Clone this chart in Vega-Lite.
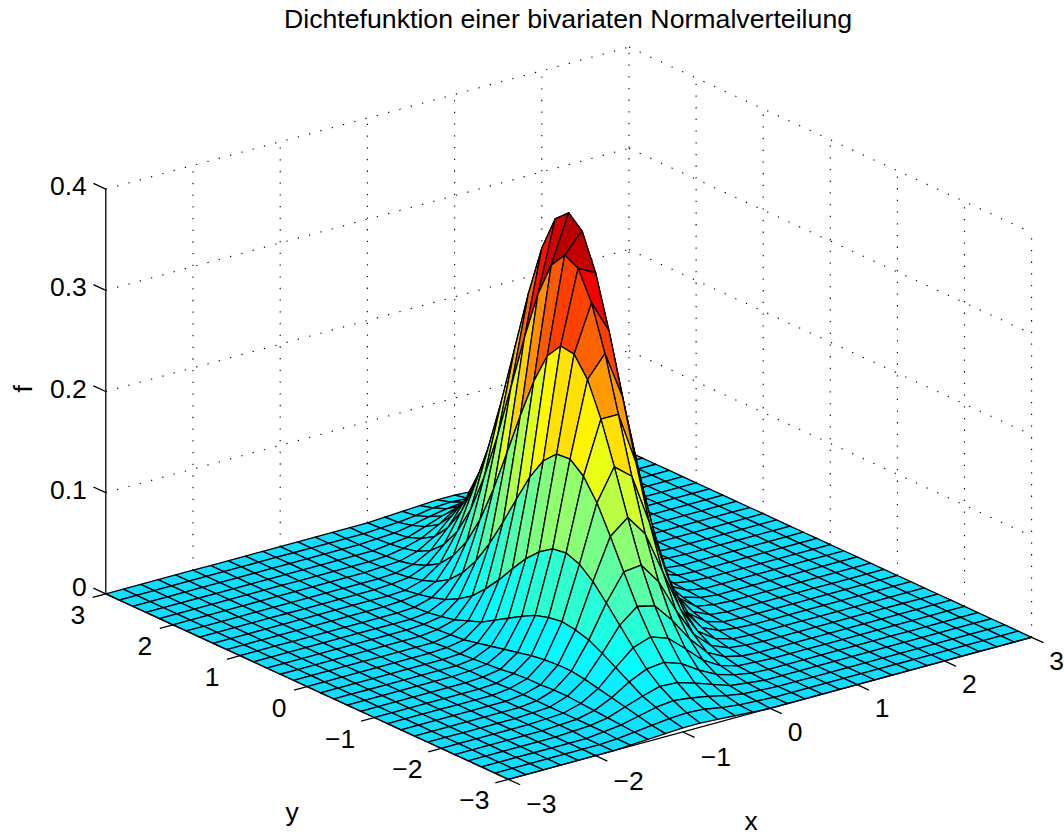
{"$schema":"https://vega.github.io/schema/vega-lite/v6.json","width":1064,"height":834,"padding":0,"autosize":"none","background":"white","config":{"view":{"stroke":null},"text":{"font":"Liberation Sans"}},
"title":{"text":"Dichtefunktion einer bivariaten Normalverteilung","anchor":"middle","frame":"group","font":"Liberation Sans","fontSize":26.7,"fontWeight":"normal","color":"black","baseline":"alphabetic","offset":0,"dy":55,"dx":36},
"datasets":{"grid":[{"x0":-3,"y0":3,"z0":0.1,"x1":3,"y1":3,"z1":0.1},{"x0":-3,"y0":3,"z0":0.2,"x1":3,"y1":3,"z1":0.2},{"x0":-3,"y0":3,"z0":0.3,"x1":3,"y1":3,"z1":0.3},{"x0":-3,"y0":3,"z0":0.4,"x1":3,"y1":3,"z1":0.4},{"x0":3,"y0":3,"z0":0.1,"x1":3,"y1":-3,"z1":0.1},{"x0":3,"y0":3,"z0":0.2,"x1":3,"y1":-3,"z1":0.2},{"x0":3,"y0":3,"z0":0.3,"x1":3,"y1":-3,"z1":0.3},{"x0":3,"y0":3,"z0":0.4,"x1":3,"y1":-3,"z1":0.4},{"x0":-2,"y0":3,"z0":0,"x1":-2,"y1":3,"z1":0.4},{"x0":-1,"y0":3,"z0":0,"x1":-1,"y1":3,"z1":0.4},{"x0":0,"y0":3,"z0":0,"x1":0,"y1":3,"z1":0.4},{"x0":1,"y0":3,"z0":0,"x1":1,"y1":3,"z1":0.4},{"x0":2,"y0":3,"z0":0,"x1":2,"y1":3,"z1":0.4},{"x0":3,"y0":3,"z0":0,"x1":3,"y1":3,"z1":0.4},{"x0":3,"y0":2,"z0":0,"x1":3,"y1":2,"z1":0.4},{"x0":3,"y0":1,"z0":0,"x1":3,"y1":1,"z1":0.4},{"x0":3,"y0":0,"z0":0,"x1":3,"y1":0,"z1":0.4},{"x0":3,"y0":-1,"z0":0,"x1":3,"y1":-1,"z1":0.4},{"x0":3,"y0":-2,"z0":0,"x1":3,"y1":-2,"z1":0.4},{"x0":3,"y0":-3,"z0":0,"x1":3,"y1":-3,"z1":0.4}],
"axes":[{"x0":-3,"y0":3,"z0":0,"x1":-3,"y1":3,"z1":0.4},{"x0":-3,"y0":-3,"z0":0,"x1":3,"y1":-3,"z1":0},{"x0":-3,"y0":-3,"z0":0,"x1":-3,"y1":3,"z1":0},{"x0":-3,"y0":3,"z0":0,"x1":-3,"y1":3.185,"z1":0},{"x0":-3,"y0":3,"z0":0.1,"x1":-3,"y1":3.185,"z1":0.1},{"x0":-3,"y0":3,"z0":0.2,"x1":-3,"y1":3.185,"z1":0.2},{"x0":-3,"y0":3,"z0":0.3,"x1":-3,"y1":3.185,"z1":0.3},{"x0":-3,"y0":3,"z0":0.4,"x1":-3,"y1":3.185,"z1":0.4},{"x0":-3,"y0":-3,"z0":0,"x1":-3,"y1":-3.175,"z1":0},{"x0":-2,"y0":-3,"z0":0,"x1":-2,"y1":-3.175,"z1":0},{"x0":-1,"y0":-3,"z0":0,"x1":-1,"y1":-3.175,"z1":0},{"x0":0,"y0":-3,"z0":0,"x1":0,"y1":-3.175,"z1":0},{"x0":1,"y0":-3,"z0":0,"x1":1,"y1":-3.175,"z1":0},{"x0":2,"y0":-3,"z0":0,"x1":2,"y1":-3.175,"z1":0},{"x0":3,"y0":-3,"z0":0,"x1":3,"y1":-3.175,"z1":0},{"x0":-3,"y0":-3,"z0":0,"x1":-3.15,"y1":-3,"z1":0},{"x0":-3,"y0":-2,"z0":0,"x1":-3.15,"y1":-2,"z1":0},{"x0":-3,"y0":-1,"z0":0,"x1":-3.15,"y1":-1,"z1":0},{"x0":-3,"y0":0,"z0":0,"x1":-3.15,"y1":0,"z1":0},{"x0":-3,"y0":1,"z0":0,"x1":-3.15,"y1":1,"z1":0},{"x0":-3,"y0":2,"z0":0,"x1":-3.15,"y1":2,"z1":0},{"x0":-3,"y0":3,"z0":0,"x1":-3.15,"y1":3,"z1":0}],
"nodes":[
{"id":960,"f":0},{"id":959,"f":0},{"id":958,"f":0},{"id":957,"f":0},{"id":956,"f":0},{"id":955,"f":0},{"id":954,"f":0},{"id":953,"f":0},{"id":952,"f":0},{"id":951,"f":0},{"id":950,"f":0},{"id":949,"f":0},{"id":948,"f":0},{"id":947,"f":0},{"id":946,"f":0},{"id":945,"f":0},{"id":944,"f":0},{"id":943,"f":0},{"id":942,"f":0},{"id":941,"f":0},{"id":940,"f":0},{"id":939,"f":0},{"id":938,"f":0},{"id":937,"f":0},{"id":936,"f":0},{"id":935,"f":0},{"id":934,"f":0},{"id":933,"f":0},{"id":932,"f":0},{"id":931,"f":0},{"id":930,"f":0},
{"id":929,"f":0},{"id":928,"f":0},{"id":927,"f":0},{"id":926,"f":0},{"id":925,"f":0},{"id":924,"f":0},{"id":923,"f":0},{"id":922,"f":0},{"id":921,"f":0},{"id":920,"f":0},{"id":919,"f":0},{"id":918,"f":0},{"id":917,"f":0},{"id":916,"f":0},{"id":915,"f":0},{"id":914,"f":0},{"id":913,"f":0},{"id":912,"f":0},{"id":911,"f":0},{"id":910,"f":0},{"id":909,"f":0},{"id":908,"f":0},{"id":907,"f":0},{"id":906,"f":0},{"id":905,"f":0},{"id":904,"f":0},{"id":903,"f":0},{"id":902,"f":0},{"id":901,"f":0},{"id":900,"f":0},{"id":899,"f":0},
{"id":898,"f":0},{"id":897,"f":0},{"id":896,"f":0},{"id":895,"f":0},{"id":894,"f":0},{"id":893,"f":0},{"id":892,"f":0},{"id":891,"f":0},{"id":890,"f":0},{"id":889,"f":0},{"id":888,"f":0},{"id":887,"f":0},{"id":886,"f":0},{"id":885,"f":0},{"id":884,"f":0},{"id":883,"f":0},{"id":882,"f":0},{"id":881,"f":0},{"id":880,"f":0},{"id":879,"f":0},{"id":878,"f":0},{"id":877,"f":0},{"id":876,"f":0},{"id":875,"f":0},{"id":874,"f":0},{"id":873,"f":0},{"id":872,"f":0},{"id":871,"f":0},{"id":870,"f":0},{"id":869,"f":0},{"id":868,"f":0},
{"id":867,"f":0},{"id":866,"f":0},{"id":865,"f":0},{"id":864,"f":0},{"id":863,"f":0},{"id":862,"f":0},{"id":861,"f":0},{"id":860,"f":0},{"id":859,"f":0},{"id":858,"f":0},{"id":857,"f":0},{"id":856,"f":0},{"id":855,"f":0},{"id":854,"f":0},{"id":853,"f":0},{"id":852,"f":0},{"id":851,"f":0},{"id":850,"f":0},{"id":849,"f":0},{"id":848,"f":0},{"id":847,"f":0},{"id":846,"f":0},{"id":845,"f":0},{"id":844,"f":0},{"id":843,"f":0},{"id":842,"f":0},{"id":841,"f":0},{"id":840,"f":0},{"id":839,"f":0},{"id":838,"f":0},{"id":837,"f":0},
{"id":836,"f":0},{"id":835,"f":0},{"id":834,"f":0},{"id":833,"f":0},{"id":832,"f":0},{"id":831,"f":0},{"id":830,"f":0},{"id":829,"f":0},{"id":828,"f":0},{"id":827,"f":0},{"id":826,"f":0},{"id":825,"f":0},{"id":824,"f":0},{"id":823,"f":0},{"id":822,"f":0},{"id":821,"f":0},{"id":820,"f":0},{"id":819,"f":0},{"id":818,"f":0},{"id":817,"f":0},{"id":816,"f":0},{"id":815,"f":0},{"id":814,"f":0},{"id":813,"f":0},{"id":812,"f":0},{"id":811,"f":0},{"id":810,"f":0},{"id":809,"f":0},{"id":808,"f":0},{"id":807,"f":0},{"id":806,"f":0},
{"id":805,"f":0},{"id":804,"f":0},{"id":803,"f":0},{"id":802,"f":0},{"id":801,"f":0},{"id":800,"f":0},{"id":799,"f":0},{"id":798,"f":0},{"id":797,"f":0},{"id":796,"f":0},{"id":795,"f":0},{"id":794,"f":0},{"id":793,"f":0},{"id":792,"f":0},{"id":791,"f":0},{"id":790,"f":0},{"id":789,"f":0},{"id":788,"f":0},{"id":787,"f":0},{"id":786,"f":0},{"id":785,"f":0},{"id":784,"f":0},{"id":783,"f":0},{"id":782,"f":0},{"id":781,"f":0},{"id":780,"f":0},{"id":779,"f":0},{"id":778,"f":0},{"id":777,"f":0},{"id":776,"f":0},{"id":775,"f":0},
{"id":774,"f":0},{"id":773,"f":0},{"id":772,"f":0},{"id":771,"f":0.001},{"id":770,"f":0.001},{"id":769,"f":0.001},{"id":768,"f":0.001},{"id":767,"f":0},{"id":766,"f":0},{"id":765,"f":0},{"id":764,"f":0},{"id":763,"f":0},{"id":762,"f":0},{"id":761,"f":0},{"id":760,"f":0},{"id":759,"f":0},{"id":758,"f":0},{"id":757,"f":0},{"id":756,"f":0},{"id":755,"f":0},{"id":754,"f":0},{"id":753,"f":0},{"id":752,"f":0},{"id":751,"f":0},{"id":750,"f":0},{"id":749,"f":0},{"id":748,"f":0},{"id":747,"f":0},{"id":746,"f":0},{"id":745,"f":0},{"id":744,"f":0},
{"id":743,"f":0.001},{"id":742,"f":0.001},{"id":741,"f":0.002},{"id":740,"f":0.002},{"id":739,"f":0.002},{"id":738,"f":0.002},{"id":737,"f":0.002},{"id":736,"f":0.002},{"id":735,"f":0.002},{"id":734,"f":0.002},{"id":733,"f":0.001},{"id":732,"f":0.001},{"id":731,"f":0.001},{"id":730,"f":0},{"id":729,"f":0},{"id":728,"f":0},{"id":727,"f":0},{"id":726,"f":0},{"id":725,"f":0},{"id":724,"f":0},{"id":723,"f":0},{"id":722,"f":0},{"id":721,"f":0},{"id":720,"f":0},{"id":719,"f":0},{"id":718,"f":0},{"id":717,"f":0},{"id":716,"f":0},{"id":715,"f":0},{"id":714,"f":0},{"id":713,"f":0},
{"id":712,"f":0.002},{"id":711,"f":0.003},{"id":710,"f":0.004},{"id":709,"f":0.005},{"id":708,"f":0.006},{"id":707,"f":0.007},{"id":706,"f":0.008},{"id":705,"f":0.008},{"id":704,"f":0.007},{"id":703,"f":0.007},{"id":702,"f":0.006},{"id":701,"f":0.004},{"id":700,"f":0.003},{"id":699,"f":0.002},{"id":698,"f":0.001},{"id":697,"f":0.001},{"id":696,"f":0},{"id":695,"f":0},{"id":694,"f":0},{"id":693,"f":0},{"id":692,"f":0},{"id":691,"f":0},{"id":690,"f":0},{"id":689,"f":0},{"id":688,"f":0},{"id":687,"f":0},{"id":686,"f":0},{"id":685,"f":0},{"id":684,"f":0},{"id":683,"f":0},{"id":682,"f":0},
{"id":681,"f":0.003},{"id":680,"f":0.005},{"id":679,"f":0.008},{"id":678,"f":0.011},{"id":677,"f":0.014},{"id":676,"f":0.017},{"id":675,"f":0.02},{"id":674,"f":0.022},{"id":673,"f":0.022},{"id":672,"f":0.021},{"id":671,"f":0.019},{"id":670,"f":0.016},{"id":669,"f":0.013},{"id":668,"f":0.01},{"id":667,"f":0.007},{"id":666,"f":0.004},{"id":665,"f":0.003},{"id":664,"f":0.002},{"id":663,"f":0.001},{"id":662,"f":0},{"id":661,"f":0},{"id":660,"f":0},{"id":659,"f":0},{"id":658,"f":0},{"id":657,"f":0},{"id":656,"f":0},{"id":655,"f":0},{"id":654,"f":0},{"id":653,"f":0},{"id":652,"f":0},{"id":651,"f":0},
{"id":650,"f":0.004},{"id":649,"f":0.007},{"id":648,"f":0.012},{"id":647,"f":0.017},{"id":646,"f":0.025},{"id":645,"f":0.033},{"id":644,"f":0.041},{"id":643,"f":0.048},{"id":642,"f":0.052},{"id":641,"f":0.054},{"id":640,"f":0.052},{"id":639,"f":0.048},{"id":638,"f":0.041},{"id":637,"f":0.033},{"id":636,"f":0.025},{"id":635,"f":0.017},{"id":634,"f":0.012},{"id":633,"f":0.007},{"id":632,"f":0.004},{"id":631,"f":0.002},{"id":630,"f":0.001},{"id":629,"f":0.001},{"id":628,"f":0},{"id":627,"f":0},{"id":626,"f":0},{"id":625,"f":0},{"id":624,"f":0},{"id":623,"f":0},{"id":622,"f":0},{"id":621,"f":0},{"id":620,"f":0},
{"id":619,"f":0.004},{"id":618,"f":0.008},{"id":617,"f":0.014},{"id":616,"f":0.022},{"id":615,"f":0.033},{"id":614,"f":0.048},{"id":613,"f":0.064},{"id":612,"f":0.08},{"id":611,"f":0.095},{"id":610,"f":0.106},{"id":609,"f":0.111},{"id":608,"f":0.109},{"id":607,"f":0.1},{"id":606,"f":0.087},{"id":605,"f":0.071},{"id":604,"f":0.054},{"id":603,"f":0.039},{"id":602,"f":0.026},{"id":601,"f":0.017},{"id":600,"f":0.01},{"id":599,"f":0.006},{"id":598,"f":0.003},{"id":597,"f":0.001},{"id":596,"f":0.001},{"id":595,"f":0},{"id":594,"f":0},{"id":593,"f":0},{"id":592,"f":0},{"id":591,"f":0},{"id":590,"f":0},{"id":589,"f":0},
{"id":588,"f":0.003},{"id":587,"f":0.007},{"id":586,"f":0.012},{"id":585,"f":0.021},{"id":584,"f":0.035},{"id":583,"f":0.054},{"id":582,"f":0.078},{"id":581,"f":0.106},{"id":580,"f":0.135},{"id":579,"f":0.162},{"id":578,"f":0.182},{"id":577,"f":0.193},{"id":576,"f":0.192},{"id":575,"f":0.179},{"id":574,"f":0.157},{"id":573,"f":0.129},{"id":572,"f":0.1},{"id":571,"f":0.073},{"id":570,"f":0.05},{"id":569,"f":0.032},{"id":568,"f":0.019},{"id":567,"f":0.011},{"id":566,"f":0.006},{"id":565,"f":0.003},{"id":564,"f":0.001},{"id":563,"f":0.001},{"id":562,"f":0},{"id":561,"f":0},{"id":560,"f":0},{"id":559,"f":0},{"id":558,"f":0},
{"id":557,"f":0.002},{"id":556,"f":0.004},{"id":555,"f":0.009},{"id":554,"f":0.016},{"id":553,"f":0.029},{"id":552,"f":0.048},{"id":551,"f":0.074},{"id":550,"f":0.108},{"id":549,"f":0.149},{"id":548,"f":0.193},{"id":547,"f":0.234},{"id":546,"f":0.267},{"id":545,"f":0.286},{"id":544,"f":0.288},{"id":543,"f":0.272},{"id":542,"f":0.241},{"id":541,"f":0.201},{"id":540,"f":0.158},{"id":539,"f":0.116},{"id":538,"f":0.08},{"id":537,"f":0.052},{"id":536,"f":0.032},{"id":535,"f":0.018},{"id":534,"f":0.01},{"id":533,"f":0.005},{"id":532,"f":0.002},{"id":531,"f":0.001},{"id":530,"f":0},{"id":529,"f":0},{"id":528,"f":0},{"id":527,"f":0},
{"id":526,"f":0.001},{"id":525,"f":0.002},{"id":524,"f":0.005},{"id":523,"f":0.01},{"id":522,"f":0.018},{"id":521,"f":0.033},{"id":520,"f":0.055},{"id":519,"f":0.087},{"id":518,"f":0.128},{"id":517,"f":0.179},{"id":516,"f":0.234},{"id":515,"f":0.288},{"id":514,"f":0.332},{"id":513,"f":0.36},{"id":512,"f":0.367},{"id":511,"f":0.351},{"id":510,"f":0.316},{"id":509,"f":0.267},{"id":508,"f":0.212},{"id":507,"f":0.158},{"id":506,"f":0.111},{"id":505,"f":0.073},{"id":504,"f":0.045},{"id":503,"f":0.026},{"id":502,"f":0.014},{"id":501,"f":0.007},{"id":500,"f":0.004},{"id":499,"f":0.002},{"id":498,"f":0.001},{"id":497,"f":0},{"id":496,"f":0},
{"id":495,"f":0},{"id":494,"f":0.001},{"id":493,"f":0.002},{"id":492,"f":0.004},{"id":491,"f":0.009},{"id":490,"f":0.017},{"id":489,"f":0.032},{"id":488,"f":0.054},{"id":487,"f":0.086},{"id":486,"f":0.129},{"id":485,"f":0.182},{"id":484,"f":0.241},{"id":483,"f":0.3},{"id":482,"f":0.351},{"id":481,"f":0.386},{"id":480,"f":0.398},{"id":479,"f":0.386},{"id":478,"f":0.351},{"id":477,"f":0.3},{"id":476,"f":0.241},{"id":475,"f":0.182},{"id":474,"f":0.129},{"id":473,"f":0.086},{"id":472,"f":0.054},{"id":471,"f":0.032},{"id":470,"f":0.017},{"id":469,"f":0.009},{"id":468,"f":0.004},{"id":467,"f":0.002},{"id":466,"f":0.001},{"id":465,"f":0},
{"id":464,"f":0},{"id":463,"f":0},{"id":462,"f":0.001},{"id":461,"f":0.002},{"id":460,"f":0.004},{"id":459,"f":0.007},{"id":458,"f":0.014},{"id":457,"f":0.026},{"id":456,"f":0.045},{"id":455,"f":0.073},{"id":454,"f":0.111},{"id":453,"f":0.158},{"id":452,"f":0.212},{"id":451,"f":0.267},{"id":450,"f":0.316},{"id":449,"f":0.351},{"id":448,"f":0.367},{"id":447,"f":0.36},{"id":446,"f":0.332},{"id":445,"f":0.288},{"id":444,"f":0.234},{"id":443,"f":0.179},{"id":442,"f":0.128},{"id":441,"f":0.087},{"id":440,"f":0.055},{"id":439,"f":0.033},{"id":438,"f":0.018},{"id":437,"f":0.01},{"id":436,"f":0.005},{"id":435,"f":0.002},{"id":434,"f":0.001},
{"id":433,"f":0},{"id":432,"f":0},{"id":431,"f":0},{"id":430,"f":0},{"id":429,"f":0.001},{"id":428,"f":0.002},{"id":427,"f":0.005},{"id":426,"f":0.01},{"id":425,"f":0.018},{"id":424,"f":0.032},{"id":423,"f":0.052},{"id":422,"f":0.08},{"id":421,"f":0.116},{"id":420,"f":0.158},{"id":419,"f":0.201},{"id":418,"f":0.241},{"id":417,"f":0.272},{"id":416,"f":0.288},{"id":415,"f":0.286},{"id":414,"f":0.267},{"id":413,"f":0.234},{"id":412,"f":0.193},{"id":411,"f":0.149},{"id":410,"f":0.108},{"id":409,"f":0.074},{"id":408,"f":0.048},{"id":407,"f":0.029},{"id":406,"f":0.016},{"id":405,"f":0.009},{"id":404,"f":0.004},{"id":403,"f":0.002},
{"id":402,"f":0},{"id":401,"f":0},{"id":400,"f":0},{"id":399,"f":0},{"id":398,"f":0},{"id":397,"f":0.001},{"id":396,"f":0.001},{"id":395,"f":0.003},{"id":394,"f":0.006},{"id":393,"f":0.011},{"id":392,"f":0.019},{"id":391,"f":0.032},{"id":390,"f":0.05},{"id":389,"f":0.073},{"id":388,"f":0.1},{"id":387,"f":0.129},{"id":386,"f":0.157},{"id":385,"f":0.179},{"id":384,"f":0.192},{"id":383,"f":0.193},{"id":382,"f":0.182},{"id":381,"f":0.162},{"id":380,"f":0.135},{"id":379,"f":0.106},{"id":378,"f":0.078},{"id":377,"f":0.054},{"id":376,"f":0.035},{"id":375,"f":0.021},{"id":374,"f":0.012},{"id":373,"f":0.007},{"id":372,"f":0.003},
{"id":371,"f":0},{"id":370,"f":0},{"id":369,"f":0},{"id":368,"f":0},{"id":367,"f":0},{"id":366,"f":0},{"id":365,"f":0},{"id":364,"f":0.001},{"id":363,"f":0.001},{"id":362,"f":0.003},{"id":361,"f":0.006},{"id":360,"f":0.01},{"id":359,"f":0.017},{"id":358,"f":0.026},{"id":357,"f":0.039},{"id":356,"f":0.054},{"id":355,"f":0.071},{"id":354,"f":0.087},{"id":353,"f":0.1},{"id":352,"f":0.109},{"id":351,"f":0.111},{"id":350,"f":0.106},{"id":349,"f":0.095},{"id":348,"f":0.08},{"id":347,"f":0.064},{"id":346,"f":0.048},{"id":345,"f":0.033},{"id":344,"f":0.022},{"id":343,"f":0.014},{"id":342,"f":0.008},{"id":341,"f":0.004},
{"id":340,"f":0},{"id":339,"f":0},{"id":338,"f":0},{"id":337,"f":0},{"id":336,"f":0},{"id":335,"f":0},{"id":334,"f":0},{"id":333,"f":0},{"id":332,"f":0},{"id":331,"f":0.001},{"id":330,"f":0.001},{"id":329,"f":0.002},{"id":328,"f":0.004},{"id":327,"f":0.007},{"id":326,"f":0.012},{"id":325,"f":0.017},{"id":324,"f":0.025},{"id":323,"f":0.033},{"id":322,"f":0.041},{"id":321,"f":0.048},{"id":320,"f":0.052},{"id":319,"f":0.054},{"id":318,"f":0.052},{"id":317,"f":0.048},{"id":316,"f":0.041},{"id":315,"f":0.033},{"id":314,"f":0.025},{"id":313,"f":0.017},{"id":312,"f":0.012},{"id":311,"f":0.007},{"id":310,"f":0.004},
{"id":309,"f":0},{"id":308,"f":0},{"id":307,"f":0},{"id":306,"f":0},{"id":305,"f":0},{"id":304,"f":0},{"id":303,"f":0},{"id":302,"f":0},{"id":301,"f":0},{"id":300,"f":0},{"id":299,"f":0},{"id":298,"f":0},{"id":297,"f":0.001},{"id":296,"f":0.002},{"id":295,"f":0.003},{"id":294,"f":0.004},{"id":293,"f":0.007},{"id":292,"f":0.01},{"id":291,"f":0.013},{"id":290,"f":0.016},{"id":289,"f":0.019},{"id":288,"f":0.021},{"id":287,"f":0.022},{"id":286,"f":0.022},{"id":285,"f":0.02},{"id":284,"f":0.017},{"id":283,"f":0.014},{"id":282,"f":0.011},{"id":281,"f":0.008},{"id":280,"f":0.005},{"id":279,"f":0.003},
{"id":278,"f":0},{"id":277,"f":0},{"id":276,"f":0},{"id":275,"f":0},{"id":274,"f":0},{"id":273,"f":0},{"id":272,"f":0},{"id":271,"f":0},{"id":270,"f":0},{"id":269,"f":0},{"id":268,"f":0},{"id":267,"f":0},{"id":266,"f":0},{"id":265,"f":0},{"id":264,"f":0},{"id":263,"f":0.001},{"id":262,"f":0.001},{"id":261,"f":0.002},{"id":260,"f":0.003},{"id":259,"f":0.004},{"id":258,"f":0.006},{"id":257,"f":0.007},{"id":256,"f":0.007},{"id":255,"f":0.008},{"id":254,"f":0.008},{"id":253,"f":0.007},{"id":252,"f":0.006},{"id":251,"f":0.005},{"id":250,"f":0.004},{"id":249,"f":0.003},{"id":248,"f":0.002},
{"id":247,"f":0},{"id":246,"f":0},{"id":245,"f":0},{"id":244,"f":0},{"id":243,"f":0},{"id":242,"f":0},{"id":241,"f":0},{"id":240,"f":0},{"id":239,"f":0},{"id":238,"f":0},{"id":237,"f":0},{"id":236,"f":0},{"id":235,"f":0},{"id":234,"f":0},{"id":233,"f":0},{"id":232,"f":0},{"id":231,"f":0},{"id":230,"f":0},{"id":229,"f":0.001},{"id":228,"f":0.001},{"id":227,"f":0.001},{"id":226,"f":0.002},{"id":225,"f":0.002},{"id":224,"f":0.002},{"id":223,"f":0.002},{"id":222,"f":0.002},{"id":221,"f":0.002},{"id":220,"f":0.002},{"id":219,"f":0.002},{"id":218,"f":0.001},{"id":217,"f":0.001},
{"id":216,"f":0},{"id":215,"f":0},{"id":214,"f":0},{"id":213,"f":0},{"id":212,"f":0},{"id":211,"f":0},{"id":210,"f":0},{"id":209,"f":0},{"id":208,"f":0},{"id":207,"f":0},{"id":206,"f":0},{"id":205,"f":0},{"id":204,"f":0},{"id":203,"f":0},{"id":202,"f":0},{"id":201,"f":0},{"id":200,"f":0},{"id":199,"f":0},{"id":198,"f":0},{"id":197,"f":0},{"id":196,"f":0},{"id":195,"f":0},{"id":194,"f":0},{"id":193,"f":0},{"id":192,"f":0.001},{"id":191,"f":0.001},{"id":190,"f":0.001},{"id":189,"f":0.001},{"id":188,"f":0},{"id":187,"f":0},{"id":186,"f":0},
{"id":185,"f":0},{"id":184,"f":0},{"id":183,"f":0},{"id":182,"f":0},{"id":181,"f":0},{"id":180,"f":0},{"id":179,"f":0},{"id":178,"f":0},{"id":177,"f":0},{"id":176,"f":0},{"id":175,"f":0},{"id":174,"f":0},{"id":173,"f":0},{"id":172,"f":0},{"id":171,"f":0},{"id":170,"f":0},{"id":169,"f":0},{"id":168,"f":0},{"id":167,"f":0},{"id":166,"f":0},{"id":165,"f":0},{"id":164,"f":0},{"id":163,"f":0},{"id":162,"f":0},{"id":161,"f":0},{"id":160,"f":0},{"id":159,"f":0},{"id":158,"f":0},{"id":157,"f":0},{"id":156,"f":0},{"id":155,"f":0},
{"id":154,"f":0},{"id":153,"f":0},{"id":152,"f":0},{"id":151,"f":0},{"id":150,"f":0},{"id":149,"f":0},{"id":148,"f":0},{"id":147,"f":0},{"id":146,"f":0},{"id":145,"f":0},{"id":144,"f":0},{"id":143,"f":0},{"id":142,"f":0},{"id":141,"f":0},{"id":140,"f":0},{"id":139,"f":0},{"id":138,"f":0},{"id":137,"f":0},{"id":136,"f":0},{"id":135,"f":0},{"id":134,"f":0},{"id":133,"f":0},{"id":132,"f":0},{"id":131,"f":0},{"id":130,"f":0},{"id":129,"f":0},{"id":128,"f":0},{"id":127,"f":0},{"id":126,"f":0},{"id":125,"f":0},{"id":124,"f":0},
{"id":123,"f":0},{"id":122,"f":0},{"id":121,"f":0},{"id":120,"f":0},{"id":119,"f":0},{"id":118,"f":0},{"id":117,"f":0},{"id":116,"f":0},{"id":115,"f":0},{"id":114,"f":0},{"id":113,"f":0},{"id":112,"f":0},{"id":111,"f":0},{"id":110,"f":0},{"id":109,"f":0},{"id":108,"f":0},{"id":107,"f":0},{"id":106,"f":0},{"id":105,"f":0},{"id":104,"f":0},{"id":103,"f":0},{"id":102,"f":0},{"id":101,"f":0},{"id":100,"f":0},{"id":99,"f":0},{"id":98,"f":0},{"id":97,"f":0},{"id":96,"f":0},{"id":95,"f":0},{"id":94,"f":0},{"id":93,"f":0},
{"id":92,"f":0},{"id":91,"f":0},{"id":90,"f":0},{"id":89,"f":0},{"id":88,"f":0},{"id":87,"f":0},{"id":86,"f":0},{"id":85,"f":0},{"id":84,"f":0},{"id":83,"f":0},{"id":82,"f":0},{"id":81,"f":0},{"id":80,"f":0},{"id":79,"f":0},{"id":78,"f":0},{"id":77,"f":0},{"id":76,"f":0},{"id":75,"f":0},{"id":74,"f":0},{"id":73,"f":0},{"id":72,"f":0},{"id":71,"f":0},{"id":70,"f":0},{"id":69,"f":0},{"id":68,"f":0},{"id":67,"f":0},{"id":66,"f":0},{"id":65,"f":0},{"id":64,"f":0},{"id":63,"f":0},{"id":62,"f":0},
{"id":61,"f":0},{"id":60,"f":0},{"id":59,"f":0},{"id":58,"f":0},{"id":57,"f":0},{"id":56,"f":0},{"id":55,"f":0},{"id":54,"f":0},{"id":53,"f":0},{"id":52,"f":0},{"id":51,"f":0},{"id":50,"f":0},{"id":49,"f":0},{"id":48,"f":0},{"id":47,"f":0},{"id":46,"f":0},{"id":45,"f":0},{"id":44,"f":0},{"id":43,"f":0},{"id":42,"f":0},{"id":41,"f":0},{"id":40,"f":0},{"id":39,"f":0},{"id":38,"f":0},{"id":37,"f":0},{"id":36,"f":0},{"id":35,"f":0},{"id":34,"f":0},{"id":33,"f":0},{"id":32,"f":0},{"id":31,"f":0},
{"id":30,"f":0},{"id":29,"f":0},{"id":28,"f":0},{"id":27,"f":0},{"id":26,"f":0},{"id":25,"f":0},{"id":24,"f":0},{"id":23,"f":0},{"id":22,"f":0},{"id":21,"f":0},{"id":20,"f":0},{"id":19,"f":0},{"id":18,"f":0},{"id":17,"f":0},{"id":16,"f":0},{"id":15,"f":0},{"id":14,"f":0},{"id":13,"f":0},{"id":12,"f":0},{"id":11,"f":0},{"id":10,"f":0},{"id":9,"f":0},{"id":8,"f":0},{"id":7,"f":0},{"id":6,"f":0},{"id":5,"f":0},{"id":4,"f":0},{"id":3,"f":0},{"id":2,"f":0},{"id":1,"f":0},{"id":0,"f":0}
]},
"encoding":{"x":{"field":"sx","type":"quantitative","scale":{"domain":[0,1064],"nice":false,"zero":false},"axis":null},"y":{"field":"sy","type":"quantitative","scale":{"domain":[834,0],"nice":false,"zero":false},"axis":null}},
"layer":[
{"data":{"name":"grid"},"transform":[{"calculate":"568.7+87.2*datum.x0-67.1*datum.y0","as":"sx"},{"calculate":"615.6-23.67*datum.x0-30.9*datum.y0-1012*datum.z0","as":"sy"},{"calculate":"568.7+87.2*datum.x1-67.1*datum.y1","as":"sx2"},{"calculate":"615.6-23.67*datum.x1-30.9*datum.y1-1012*datum.z1","as":"sy2"}],"mark":{"type":"rule","color":"black","strokeWidth":1.1,"strokeDash":[1.3,10.4]},"encoding":{"x2":{"field":"sx2"},"y2":{"field":"sy2"}}},
{"data":{"name":"nodes"},"transform":[{"filter":"floor(datum.id/31)<30&&datum.id%31<30"},{"calculate":"[0,1,2,3]","as":"k"},{"flatten":["k"]},{"calculate":"floor(datum.id/31)+(datum.k==1||datum.k==2?1:0)","as":"ix"},{"calculate":"datum.id%31+(datum.k>=2?1:0)","as":"iy"},{"calculate":"datum.ix*31+datum.iy","as":"vid"},{"lookup":"vid","from":{"data":{"name":"nodes"},"key":"id","fields":["f"]},"as":["z"]},{"calculate":"-3+0.2*datum.ix","as":"xv"},{"calculate":"-3+0.2*datum.iy","as":"yv"},{"calculate":"568.7+87.2*datum.xv-67.1*datum.yv","as":"sx"},{"calculate":"615.6-23.67*datum.xv-30.9*datum.yv-1012*datum.z","as":"sy"},{"calculate":"960-datum.id","as":"cell"}],"mark":{"type":"line","interpolate":"linear-closed","stroke":"black","strokeWidth":1.3,"strokeJoin":"round","clip":false},"encoding":{"order":{"field":"k","type":"ordinal"},"detail":{"field":"cell","type":"ordinal"},"fill":{"field":"f","type":"quantitative","legend":null,"scale":{"domain":[0,0.025,0.175,0.325,0.4],"range":["#12dcff","#00ffff","#ffff00","#ff0000","#800000"],"interpolate":"rgb","clamp":true}}}},
{"data":{"name":"axes"},"transform":[{"calculate":"568.7+87.2*datum.x0-67.1*datum.y0","as":"sx"},{"calculate":"615.6-23.67*datum.x0-30.9*datum.y0-1012*datum.z0","as":"sy"},{"calculate":"568.7+87.2*datum.x1-67.1*datum.y1","as":"sx2"},{"calculate":"615.6-23.67*datum.x1-30.9*datum.y1-1012*datum.z1","as":"sy2"}],"mark":{"type":"rule","color":"black","strokeWidth":1.3},"encoding":{"x2":{"field":"sx2"},"y2":{"field":"sy2"}}},
{"data":{"values":[{"t":"0","z":0},{"t":"0.1","z":0.1},{"t":"0.2","z":0.2},{"t":"0.3","z":0.3},{"t":"0.4","z":0.4}]},"transform":[{"calculate":"568.7+87.2*-3-67.1*3","as":"sx"},{"calculate":"615.6-23.67*-3-30.9*3-1012*datum.z-(datum.z==0?4:0)","as":"sy"}],"mark":{"type":"text","font":"Liberation Sans","fontSize":26.5,"align":"right","baseline":"middle","dx":-19,"dy":-2,"color":"black"},"encoding":{"text":{"field":"t"}}},
{"data":{"values":[{"t":"−3","v":-3},{"t":"−2","v":-2},{"t":"−1","v":-1},{"t":"0","v":0},{"t":"1","v":1},{"t":"2","v":2},{"t":"3","v":3}]},"transform":[{"calculate":"568.7+87.2*datum.v-67.1*-3+(datum.v<0?8:0)","as":"sx"},{"calculate":"615.6-23.67*datum.v-30.9*-3+(datum.v<0?1.5:0)","as":"sy"}],"mark":{"type":"text","font":"Liberation Sans","fontSize":26.5,"align":"center","baseline":"middle","dx":25,"dy":24.5,"color":"black"},"encoding":{"text":{"field":"t"}}},
{"data":{"values":[{"t":"−3","v":-3},{"t":"−2","v":-2},{"t":"−1","v":-1},{"t":"0","v":0},{"t":"1","v":1},{"t":"2","v":2},{"t":"3","v":3}]},"transform":[{"calculate":"568.7+87.2*-3-67.1*datum.v-(datum.v<0?6:0)","as":"sx"},{"calculate":"615.6-23.67*-3-30.9*datum.v","as":"sy"}],"mark":{"type":"text","font":"Liberation Sans","fontSize":26.5,"align":"center","baseline":"middle","dx":-28,"dy":22,"color":"black"},"encoding":{"text":{"field":"t"}}},
{"data":{"values":[{"t":"x","xa":-1.918,"ya":-5.21},{"t":"y","xa":-5.089,"ya":-2.49}]},"transform":[{"calculate":"568.7+87.2*datum.xa-67.1*datum.ya","as":"sx"},{"calculate":"615.6-23.67*datum.xa-30.9*datum.ya","as":"sy"}],"mark":{"type":"text","font":"Liberation Sans","fontSize":26.5,"align":"center","baseline":"middle","color":"black"},"encoding":{"text":{"field":"t"}}},
{"data":{"values":[{"t":"f","z":0.2}]},"transform":[{"calculate":"568.7+87.2*-3-67.1*3-82","as":"sx"},{"calculate":"615.6-23.67*-3-30.9*3-1012*datum.z-2.6","as":"sy"}],"mark":{"type":"text","font":"Liberation Sans","fontSize":26.5,"align":"center","baseline":"middle","angle":270,"color":"black"},"encoding":{"text":{"field":"t"}}}
]}
